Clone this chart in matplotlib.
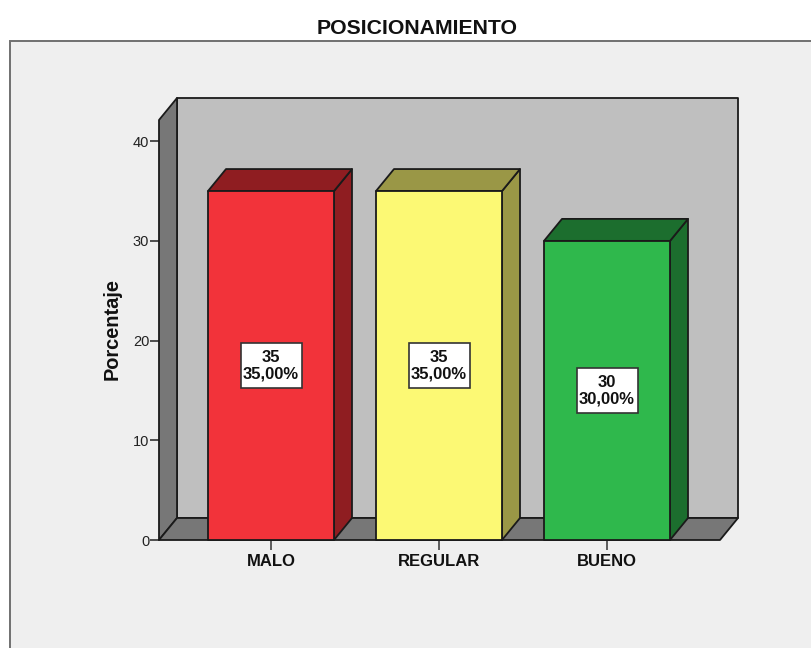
import matplotlib
matplotlib.use('Agg')
import matplotlib.pyplot as plt
from matplotlib.patches import Polygon, Rectangle

plt.rcParams['font.family'] = ['Liberation Sans', 'DejaVu Sans']

categorias = ['MALO', 'REGULAR', 'BUENO']
conteos = [35, 35, 30]
porcentajes = ['35,00%', '35,00%', '30,00%']
colores = ['#F2333A', '#FCF974', '#2FB84C']
colores_lado = ['#8F1D21', '#9A9746', '#1C6E2E']
colores_arriba = ['#8F1D21', '#9A9746', '#1C6E2E']
yticks = [0, 10, 20, 30, 40]

W, H = 811, 648
fig = plt.figure(figsize=(W / 100, H / 100), dpi=100, facecolor='white')

# panel gris de fondo (zorder bajo, si no tapa los ejes)
fig.add_artist(Rectangle((9.5 / W, -0.01), 1.0, (H - 41) / H + 0.01, transform=fig.transFigure,
                         facecolor='#EFEFEF', edgecolor='#707070', linewidth=1.4, zorder=-1))

# ejes = plano frontal del grafico
izq, der, abajo, arriba = 159, 720, 540, 120
ax = fig.add_axes([izq / W, (H - abajo) / H, (der - izq) / W, (abajo - arriba) / H])
ax.patch.set_visible(False)
px_x = 168.0
px_y = 9.97
ax.set_xlim((izq - 271) / px_x, (der - 271) / px_x)
ax.set_ylim(0, (abajo - arriba) / px_y)
dx = 18 / px_x   # profundidad 3D
dy = 22 / px_y
x0, x1 = ax.get_xlim()
y0, y1 = ax.get_ylim()
borde = '#1A1A1A'


def poli(puntos, color, z, ec=borde, lw=1.3):
    ax.add_patch(Polygon(puntos, closed=True, facecolor=color, edgecolor=ec, linewidth=lw,
                         zorder=z, clip_on=False, joinstyle='round'))


# paredes
poli([(x0 + dx, y0 + dy), (x1 + dx, y0 + dy), (x1 + dx, y1 + dy), (x0 + dx, y1 + dy)], '#BFBFBF', 1)
poli([(x0, y0), (x0 + dx, y0 + dy), (x0 + dx, y1 + dy), (x0, y1)], '#777777', 2)
poli([(x0, y0), (x1, y0), (x1 + dx, y0 + dy), (x0 + dx, y0 + dy)], '#777777', 2)

# barras
ancho = 126 / px_x
caja_w = 61 / px_x
caja_h = 45 / px_y
for i, v in enumerate(conteos):
    a = i - ancho / 2
    b = i + ancho / 2
    poli([(b, 0), (b + dx, dy), (b + dx, v + dy), (b, v)], colores_lado[i], 3)
    poli([(a, v), (b, v), (b + dx, v + dy), (a + dx, v + dy)], colores_arriba[i], 3)
    poli([(a, 0), (b, 0), (b, v), (a, v)], colores[i], 4)
    ax.add_patch(Rectangle((i - caja_w / 2, v / 2 - caja_h / 2), caja_w, caja_h, facecolor='white',
                           edgecolor='#333333', linewidth=1.2, zorder=5))
    ax.text(i, v / 2, str(v) + '\n' + porcentajes[i], ha='center', va='center', fontsize=12,
            fontweight='bold', color='#111111', linespacing=1.15, zorder=6)

for s in ax.spines.values():
    s.set_visible(False)

ax.set_xticks(range(len(categorias)))
ax.set_xticklabels(categorias, fontsize=12, fontweight='bold', color='#111111')
ax.set_yticks(yticks)
ax.set_yticklabels([str(t) for t in yticks], fontsize=10.5, color='#222222')
ax.tick_params(axis='x', length=7, width=1.2, color='#444444', pad=3)
ax.tick_params(axis='y', length=6.5, width=1.2, color='#333333', pad=0.5)

fig.text(417 / W, (H - 28) / H, 'POSICIONAMIENTO', ha='center', va='center', fontsize=15.3,
         fontweight='bold', color='#111111')
fig.text(112 / W, (H - 329) / H, 'Porcentaje', ha='center', va='center', rotation=90,
         fontsize=14.4, fontweight='bold', color='#111111')

fig.savefig('out.png', dpi=100)
